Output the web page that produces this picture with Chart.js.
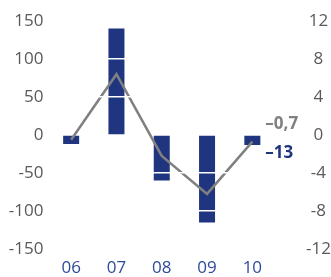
<!DOCTYPE html>
<html>
<head>
<meta charset="utf-8">
<script src="https://cdn.jsdelivr.net/npm/chart.js@4"></script>
<style>
  html, body { margin: 0; padding: 0; background: #fff; overflow: hidden; }
  canvas { display: block; }
</style>
</head>
<body>
<canvas id="chart1" width="331" height="277"></canvas>
<script>
var years = ['06', '07', '08', '09', '10'];
var barValues = [-12, 140, -60, -115, -13];
var lineValues = [-0.5, 6.4, -2.2, -6.2, -0.7];
var endLabels = ['\u20130,7', '\u201313'];

var BLUE = '#1f3580';
var GREY = '#808080';
var TICK_GREY = '#595959';
var FONT = '"Open Sans", sans-serif';
var FSIZE = 17;

// end-of-series labels next to the last point / bar
var endLabelPlugin = {
	id: 'endLabels',
	afterDatasetsDraw: function(chart) {
		var ctx = chart.ctx;
		var pt = chart.getDatasetMeta(1).data[4];
		var zero = chart.scales.y.getPixelForValue(0);
		ctx.save();
		ctx.font = 'bold ' + FSIZE + 'px ' + FONT;
		ctx.textAlign = 'left';
		ctx.textBaseline = 'middle';
		ctx.fillStyle = GREY;
		ctx.fillText(endLabels[0], pt.x + 13, zero - 11);
		ctx.fillStyle = BLUE;
		ctx.fillText(endLabels[1], pt.x + 13, zero + 18);
		ctx.restore();
	}
};

// keep big tick paddings from pushing the plot down
function noVertPad(axis) {
	axis.paddingTop = 0;
	axis.paddingBottom = 0;
}

var ctx = document.getElementById('chart1').getContext('2d');
new Chart(ctx, {
	data: {
		labels: years,
		datasets: [{
			type: 'bar',
			data: barValues,
			backgroundColor: BLUE,
			yAxisID: 'y',
			barPercentage: 0.7,
			categoryPercentage: 0.505,
			order: 2
		}, {
			type: 'line',
			data: lineValues,
			borderColor: GREY,
			borderWidth: 2.5,
			pointRadius: 0,
			tension: 0,
			yAxisID: 'y1',
			order: 1
		}]
	},
	options: {
		responsive: false,
		animation: false,
		layout: { padding: { top: 21, left: 0, right: 0, bottom: 0 } },
		plugins: {
			legend: { display: false },
			tooltip: { enabled: false }
		},
		scales: {
			x: {
				grid: { display: false },
				border: { display: false },
				ticks: { color: '#2e4a9a', font: { family: FONT, size: FSIZE }, padding: 1 },
				afterFit: function(axis) { axis.height = 28; }
			},
			y: {
				min: -150,
				max: 150,
				border: { display: false },
				grid: {
					z: 1,
					lineWidth: 1.5,
					drawTicks: false,
					color: function(c) {
						var v = c.tick ? c.tick.value : 0;
						return (v === 0 || Math.abs(v) === 150) ? 'rgba(0,0,0,0)' : '#ffffff';
					}
				},
				ticks: { stepSize: 50, color: TICK_GREY, font: { family: FONT, size: FSIZE }, padding: 5 },
				afterFit: function(axis) { axis.width = 48.5; noVertPad(axis); }
			},
			y1: {
				position: 'right',
				min: -12,
				max: 12,
				border: { display: false },
				grid: { display: false, drawTicks: false },
				ticks: { stepSize: 4, crossAlign: 'center', color: TICK_GREY, font: { family: FONT, size: FSIZE }, padding: 31 },
				afterFit: function(axis) { axis.width = 56; noVertPad(axis); }
			}
		}
	},
	plugins: [endLabelPlugin]
});
</script>
</body>
</html>
